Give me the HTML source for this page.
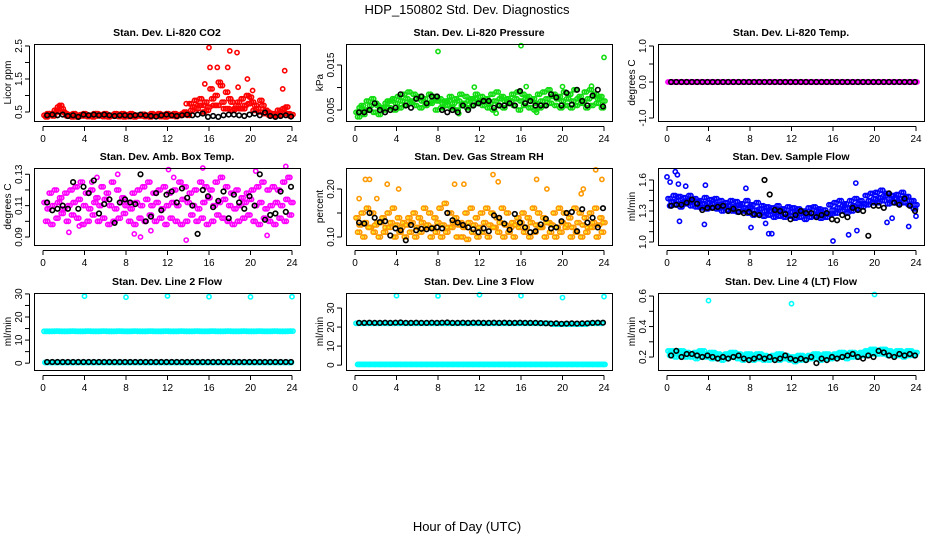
<!DOCTYPE html>
<html><head><meta charset="utf-8">
<style>
body{margin:0;background:#fff;}
svg{display:block;font-family:"Liberation Sans",Arial,sans-serif;}
</style></head>
<body>
<svg id="chart" width="936" height="540" viewBox="0 0 936 540" xmlns="http://www.w3.org/2000/svg">
<text x="467" y="14" font-size="13" text-anchor="middle">HDP_150802  Std. Dev. Diagnostics</text>
<text x="467" y="531" font-size="13" text-anchor="middle">Hour of Day (UTC)</text>
</svg>
<script>
const xTicks=[0,4,8,12,16,20,24];

const co2A=[0.4,0.45,0.55,0.7,0.45,0.4,0.4,0.42,0.42,0.4,0.45,0.4,0.42,0.4,0.43,0.45,0.4,0.42,0.4,0.43,0.4,0.42,0.45,0.4,0.42,0.45,0.4,0.5,0.75,0.85,0.9,0.8,1.2,1.0,1.3,1.1,0.8,0.7,0.9,1.0,0.8,0.6,0.7,0.5,0.45,0.55,0.6,0.45];
const co2B=[0.35,0.4,0.5,0.6,0.38,0.35,0.35,0.38,0.36,0.35,0.38,0.36,0.35,0.38,0.36,0.35,0.36,0.35,0.38,0.36,0.35,0.38,0.36,0.35,0.38,0.36,0.4,0.42,0.55,0.6,0.7,0.55,0.9,0.7,0.8,0.6,0.55,0.8,0.6,0.75,0.55,0.5,0.45,0.4,0.38,0.4,0.45,0.38];
const co2C=[0.45,0.38,0.65,0.5,0.42,0.45,0.38,0.45,0.4,0.45,0.42,0.45,0.4,0.45,0.4,0.42,0.45,0.4,0.42,0.4,0.45,0.4,0.42,0.45,0.4,0.42,0.45,0.4,0.65,0.7,0.5,0.65,0.7,1.4,0.6,0.9,0.6,0.6,0.7,0.95,0.7,0.85,0.55,0.45,0.4,0.5,0.65,0.42];
const co2OutT=[16,16.1,16.8,17.8,18,18.7,19.7,23.3,23.1,15.6,20.2,13.8,18.8];
const co2OutV=[2.45,1.85,1.85,1.85,2.35,2.3,1.5,1.75,1.2,1.35,1.15,0.75,1.25];
const co2K=[0.4,0.42,0.4,0.42,0.38,0.4,0.35,0.42,0.4,0.42,0.4,0.42,0.4,0.38,0.4,0.4,0.38,0.4,0.42,0.4,0.38,0.36,0.4,0.42,0.4,0.38,0.4,0.42,0.4,0.42,0.45,0.35,0.38,0.35,0.4,0.42,0.42,0.4,0.38,0.42,0.45,0.4,0.48,0.38,0.35,0.38,0.4,0.36];

const prA=[0.0045,0.006,0.007,0.0075,0.006,0.0055,0.007,0.0075,0.008,0.0085,0.009,0.0085,0.008,0.0075,0.0085,0.008,0.0075,0.007,0.008,0.0075,0.0085,0.008,0.0075,0.0085,0.008,0.0075,0.0085,0.009,0.008,0.0075,0.0085,0.009,0.0085,0.008,0.0075,0.0085,0.009,0.0095,0.0085,0.008,0.009,0.0085,0.0095,0.008,0.009,0.0095,0.0085,0.008];
const prB=[0.0035,0.004,0.005,0.0045,0.004,0.005,0.0055,0.005,0.0055,0.006,0.0065,0.006,0.0055,0.006,0.0065,0.005,0.0055,0.006,0.0055,0.005,0.006,0.0055,0.006,0.0065,0.006,0.0055,0.005,0.006,0.0055,0.0065,0.006,0.005,0.006,0.0055,0.005,0.0055,0.006,0.0065,0.006,0.0055,0.006,0.0055,0.006,0.0065,0.0055,0.006,0.0065,0.0055];
const prC=[0.0055,0.005,0.006,0.0065,0.0055,0.0065,0.007,0.0065,0.007,0.0075,0.007,0.0075,0.007,0.0065,0.007,0.007,0.0065,0.007,0.0065,0.007,0.0065,0.007,0.0075,0.007,0.007,0.0065,0.007,0.0075,0.007,0.007,0.0075,0.007,0.0075,0.007,0.0065,0.007,0.0075,0.008,0.0075,0.007,0.0075,0.007,0.0075,0.007,0.0075,0.008,0.0075,0.007];
const prOutT=[8,16,24,11.5,16.5,20,22.8,10,13.6,17.5];
const prOutV=[0.018,0.0193,0.0167,0.0101,0.0102,0.0102,0.0103,0.0042,0.0043,0.0045];
const prK=[0.0045,0.0045,0.005,0.0065,0.005,0.0045,0.005,0.0055,0.0085,0.006,0.0055,0.0075,0.008,0.0065,0.008,0.008,0.005,0.0045,0.005,0.0045,0.006,0.005,0.006,0.0065,0.007,0.007,0.0055,0.006,0.006,0.0065,0.006,0.0092,0.0065,0.007,0.006,0.006,0.006,0.0085,0.0078,0.006,0.0088,0.0062,0.0095,0.007,0.006,0.0082,0.0095,0.0058];

const tmA=[0,0,0,0,0,0,0,0,0,0,0,0,0,0,0,0,0,0,0,0,0,0,0,0,0,0,0,0,0,0,0,0,0,0,0,0,0,0,0,0,0,0,0,0,0,0,0,0];
const tmK=[0,0,0,0,0,0,0,0,0,0,0,0,0,0,0,0,0,0,0,0,0,0,0,0,0,0,0,0,0,0,0,0,0,0,0,0,0,0,0,0,0,0,0,0,0,0,0,0];

const amA=[0.112,0.118,0.12,0.115,0.118,0.12,0.122,0.125,0.118,0.12,0.115,0.122,0.118,0.125,0.12,0.115,0.112,0.118,0.12,0.122,0.125,0.118,0.12,0.122,0.118,0.12,0.125,0.122,0.118,0.12,0.125,0.122,0.12,0.125,0.128,0.122,0.118,0.12,0.115,0.118,0.12,0.122,0.125,0.12,0.122,0.12,0.125,0.128];
const amB=[0.1,0.098,0.102,0.105,0.1,0.104,0.102,0.098,0.1,0.104,0.1,0.102,0.098,0.1,0.102,0.105,0.1,0.098,0.102,0.1,0.104,0.1,0.102,0.098,0.102,0.1,0.098,0.1,0.104,0.1,0.102,0.098,0.1,0.104,0.102,0.1,0.098,0.1,0.102,0.104,0.1,0.098,0.102,0.1,0.098,0.102,0.1,0.104];
const amC=[0.108,0.11,0.112,0.108,0.11,0.112,0.114,0.11,0.108,0.112,0.11,0.114,0.11,0.108,0.112,0.11,0.108,0.112,0.11,0.114,0.11,0.112,0.108,0.11,0.112,0.11,0.114,0.112,0.11,0.108,0.112,0.115,0.11,0.112,0.114,0.11,0.108,0.11,0.112,0.114,0.11,0.112,0.108,0.11,0.112,0.11,0.114,0.112];
const amOutT=[2.5,3.5,5.2,7.2,8.8,9.4,10.4,12.1,13.8,15.4,20.5,21.6,23.4,12.6,4.7];
const amOutV=[0.093,0.097,0.128,0.13,0.092,0.09,0.094,0.133,0.088,0.134,0.132,0.091,0.135,0.128,0.125];
const amK=[0.112,0.107,0.108,0.11,0.108,0.125,0.108,0.122,0.118,0.126,0.105,0.111,0.114,0.099,0.112,0.114,0.112,0.111,0.13,0.1,0.103,0.118,0.107,0.117,0.119,0.112,0.121,0.115,0.11,0.092,0.12,0.116,0.109,0.113,0.119,0.102,0.117,0.112,0.108,0.116,0.11,0.13,0.101,0.104,0.105,0.119,0.106,0.122];

const rhA=[0.14,0.15,0.16,0.15,0.13,0.14,0.15,0.16,0.14,0.13,0.14,0.15,0.14,0.16,0.15,0.14,0.16,0.17,0.15,0.14,0.13,0.15,0.16,0.14,0.15,0.16,0.15,0.14,0.16,0.15,0.13,0.14,0.15,0.14,0.16,0.15,0.14,0.13,0.15,0.16,0.15,0.14,0.16,0.15,0.14,0.15,0.16,0.14];
const rhB=[0.11,0.1,0.12,0.11,0.1,0.11,0.12,0.1,0.11,0.1,0.11,0.1,0.11,0.12,0.1,0.11,0.1,0.11,0.12,0.1,0.1,0.095,0.11,0.1,0.11,0.1,0.12,0.11,0.1,0.11,0.1,0.12,0.11,0.1,0.11,0.12,0.1,0.11,0.1,0.11,0.12,0.1,0.11,0.1,0.11,0.12,0.1,0.11];
const rhC=[0.125,0.13,0.12,0.125,0.13,0.12,0.13,0.125,0.12,0.125,0.13,0.12,0.13,0.125,0.12,0.13,0.125,0.12,0.13,0.125,0.12,0.13,0.125,0.12,0.13,0.125,0.12,0.13,0.125,0.12,0.125,0.13,0.12,0.13,0.125,0.12,0.13,0.125,0.12,0.13,0.125,0.12,0.13,0.125,0.12,0.13,0.125,0.13];
const rhOutT=[0.4,1,1.4,2.1,3.1,4.2,9.6,10.5,13.3,13.8,17.5,22,23.2,23.8,21.8,18.5];
const rhOutV=[0.18,0.22,0.22,0.18,0.21,0.2,0.21,0.21,0.23,0.215,0.22,0.2,0.24,0.22,0.19,0.2];
const rhK=[0.13,0.128,0.15,0.14,0.131,0.133,0.103,0.118,0.114,0.093,0.125,0.114,0.117,0.116,0.118,0.12,0.118,0.15,0.135,0.13,0.125,0.12,0.116,0.11,0.118,0.112,0.145,0.14,0.128,0.115,0.148,0.13,0.12,0.11,0.112,0.126,0.138,0.118,0.12,0.133,0.15,0.152,0.112,0.158,0.13,0.14,0.12,0.16];

const sfA=[1.42,1.45,1.44,1.43,1.45,1.42,1.4,1.43,1.41,1.42,1.4,1.38,1.4,1.39,1.37,1.4,1.36,1.38,1.35,1.34,1.33,1.35,1.32,1.34,1.33,1.32,1.3,1.33,1.34,1.32,1.31,1.36,1.38,1.4,1.37,1.4,1.42,1.4,1.45,1.47,1.48,1.5,1.47,1.45,1.46,1.48,1.44,1.4];
const sfB=[1.35,1.36,1.34,1.37,1.35,1.34,1.33,1.32,1.33,1.32,1.3,1.31,1.3,1.29,1.3,1.28,1.26,1.27,1.25,1.26,1.24,1.25,1.24,1.25,1.23,1.24,1.22,1.24,1.25,1.23,1.24,1.27,1.28,1.3,1.28,1.3,1.32,1.34,1.36,1.38,1.38,1.4,1.37,1.38,1.37,1.38,1.36,1.32];
const sfC=[1.39,1.4,1.38,1.4,1.4,1.38,1.37,1.38,1.37,1.36,1.35,1.35,1.34,1.35,1.33,1.34,1.31,1.32,1.3,1.3,1.29,1.3,1.28,1.29,1.28,1.28,1.27,1.28,1.3,1.28,1.27,1.31,1.33,1.35,1.33,1.35,1.37,1.37,1.4,1.42,1.43,1.45,1.42,1.42,1.42,1.43,1.4,1.36];
const sfOutT=[0,0.3,0.8,1,1.1,1.2,3.6,1.8,3.7,7.6,8.1,9.5,9.8,10.1,16,17.5,18.3,18.2,21.2,23.3,21.7,24];
const sfOutV=[1.63,1.58,1.68,1.65,1.56,1.2,1.17,1.54,1.55,1.52,1.14,1.18,1.08,1.08,1.01,1.07,1.11,1.57,1.19,1.15,1.23,1.25];
const sfK=[1.35,1.36,1.36,1.38,1.41,1.37,1.31,1.33,1.33,1.34,1.35,1.3,1.32,1.29,1.28,1.29,1.27,1.26,1.6,1.46,1.31,1.3,1.27,1.22,1.26,1.3,1.28,1.28,1.24,1.26,1.28,1.22,1.21,1.26,1.24,1.33,1.31,1.3,1.06,1.35,1.35,1.33,1.47,1.38,1.36,1.42,1.35,1.3];

const l2A=[13.8,13.8,13.9,13.8,13.8,13.9,13.8,13.8,13.9,13.8,13.8,13.9,13.8,13.8,13.9,13.8,13.8,13.9,13.8,13.8,13.9,13.8,13.8,13.9,13.8,13.8,13.9,13.8,13.8,13.9,13.8,13.8,13.9,13.8,13.8,13.9,13.8,13.8,13.9,13.8,13.8,13.9,13.8,13.8,13.9,13.8,13.8,13.9];
const l2B=[0.3,0.3,0.3,0.3,0.3,0.3,0.3,0.3,0.3,0.3,0.3,0.3,0.3,0.3,0.3,0.3,0.3,0.3,0.3,0.3,0.3,0.3,0.3,0.3,0.3,0.3,0.3,0.3,0.3,0.3,0.3,0.3,0.3,0.3,0.3,0.3,0.3,0.3,0.3,0.3,0.3,0.3,0.3,0.3,0.3,0.3,0.3,0.3];
const l2OutT=[4,8,12,16,20,24];
const l2OutV=[29,28.6,29.1,28.8,28.7,28.8];
const l2K=[0.5,0.5,0.5,0.5,0.5,0.5,0.5,0.5,0.5,0.5,0.5,0.5,0.5,0.5,0.5,0.5,0.5,0.5,0.5,0.5,0.5,0.5,0.5,0.5,0.5,0.5,0.5,0.5,0.5,0.5,0.5,0.5,0.5,0.5,0.5,0.5,0.5,0.5,0.5,0.5,0.5,0.5,0.5,0.5,0.5,0.5,0.5,0.5];

const l3A=[22,22,22,22,22,22,22,22,22,22,22,22,22,22,22,22,22,22,22,22,22,22,22,22,22,22,22,22,22,22,22,22,22,22,22,22,22,22,21.5,21.5,21.5,21.5,21.5,21.5,21.5,22,22,22];
const l3B=[0.4,0.4,0.4,0.4,0.4,0.4,0.4,0.4,0.4,0.4,0.4,0.4,0.4,0.4,0.4,0.4,0.4,0.4,0.4,0.4,0.4,0.4,0.4,0.4,0.4,0.4,0.4,0.4,0.4,0.4,0.4,0.4,0.4,0.4,0.4,0.4,0.4,0.4,0.4,0.4,0.4,0.4,0.4,0.4,0.4,0.4,0.4,0.4];
const l3OutT=[4,8,12,16,20,24];
const l3OutV=[36.5,36.4,37,36.5,35.5,36];
const l3K=[22.2,22.2,22.3,22.2,22.2,22.3,22.2,22.3,22.4,22.2,22.2,22.3,22.2,22.2,22.3,22.2,22.3,22.4,22.2,22.2,22.3,22.2,22.3,22.3,22.2,22.2,22.3,22.2,22.3,22.2,22.2,22.3,22.2,22.2,22.2,22.1,22.0,21.8,21.9,21.7,21.8,21.9,21.8,21.9,22.0,22.2,22.3,22.3];

const l4A=[0.24,0.23,0.24,0.23,0.22,0.23,0.24,0.22,0.23,0.22,0.21,0.22,0.23,0.22,0.21,0.22,0.21,0.22,0.21,0.2,0.21,0.22,0.21,0.2,0.2,0.21,0.2,0.21,0.22,0.21,0.22,0.21,0.22,0.23,0.22,0.23,0.22,0.23,0.24,0.25,0.24,0.25,0.24,0.23,0.24,0.23,0.24,0.23];
const l4B=[0.21,0.2,0.21,0.2,0.2,0.19,0.2,0.2,0.19,0.19,0.18,0.19,0.2,0.19,0.18,0.19,0.18,0.19,0.18,0.18,0.19,0.18,0.19,0.18,0.17,0.18,0.18,0.19,0.19,0.18,0.19,0.19,0.2,0.2,0.19,0.2,0.2,0.21,0.21,0.22,0.22,0.22,0.21,0.21,0.21,0.2,0.21,0.21];
const l4OutT=[4,12,20];
const l4OutV=[0.57,0.55,0.61];
const l4K=[0.21,0.24,0.2,0.22,0.22,0.21,0.2,0.21,0.2,0.19,0.2,0.19,0.2,0.21,0.19,0.18,0.19,0.2,0.19,0.2,0.18,0.19,0.21,0.19,0.18,0.19,0.18,0.2,0.16,0.19,0.18,0.2,0.19,0.2,0.21,0.22,0.2,0.19,0.21,0.2,0.24,0.23,0.21,0.2,0.22,0.21,0.22,0.21];

const NS="http://www.w3.org/2000/svg";
const svg=document.getElementById('chart');
function mk(tag,attrs,parent){const e=document.createElementNS(NS,tag);for(const k in attrs)e.setAttribute(k,attrs[k]);(parent||svg).appendChild(e);return e;}

const panels=[
 {name:'co2',title:'Stan. Dev. Li-820 CO2',ylab:'Licor ppm',col:0,row:0,ymin:0.227,ymax:2.56,ticks:[0.5,1,1.5,2,2.5],labs:['0.5','','1.5','','2.5'],color:'#ff0000',series:[co2A,co2B,co2C],outT:co2OutT,outV:co2OutV,black:co2K},
 {name:'pressure',title:'Stan. Dev. Li-820 Pressure',ylab:'kPa',col:1,row:0,ymin:0.00256,ymax:0.01967,ticks:[0.005,0.010,0.015],labs:['0.005','','0.015'],color:'#11dd11',series:[prA,prB,prC],outT:prOutT,outV:prOutV,black:prK},
 {name:'temp',title:'Stan. Dev. Li-820 Temp.',ylab:'degrees C',col:2,row:0,ymin:-1.083,ymax:1.056,ticks:[-1,-0.5,0,0.5,1],labs:['-1.0','','0.0','','1.0'],color:'#ff00ff',series:[tmA,tmA,tmA],outT:[],outV:[],black:tmK},
 {name:'amb-box-temp',title:'Stan. Dev. Amb. Box Temp.',ylab:'degrees C',col:0,row:1,ymin:0.0849,ymax:0.134,ticks:[0.09,0.10,0.11,0.12,0.13],labs:['0.09','','0.11','','0.13'],color:'#ff00ff',series:[amA,amB,amC],outT:amOutT,outV:amOutV,black:amK},
 {name:'gas-rh',title:'Stan. Dev. Gas Stream RH',ylab:'percent',col:1,row:1,ymin:0.0833,ymax:0.2438,ticks:[0.10,0.15,0.20],labs:['0.10','','0.20'],color:'#ff9900',inner:'#ffee00',series:[rhA,rhB,rhC],outT:rhOutT,outV:rhOutV,black:rhK},
 {name:'sample-flow',title:'Stan. Dev. Sample Flow',ylab:'ml/min',col:2,row:1,ymin:0.971,ymax:1.716,ticks:[1.0,1.1,1.2,1.3,1.4,1.5,1.6],labs:['1.0','','','1.3','','','1.6'],color:'#0000ff',series:[sfA,sfB,sfC],outT:sfOutT,outV:sfOutV,black:sfK},
 {name:'line2-flow',title:'Stan. Dev. Line 2 Flow',ylab:'ml/min',col:0,row:2,ymin:-2.96,ymax:30.4,ticks:[0,5,10,15,20,25,30],labs:['0','','10','','20','','30'],color:'#00ffff',series:[l2A,l2B,l2A,l2B],outT:l2OutT,outV:l2OutV,black:l2K},
 {name:'line3-flow',title:'Stan. Dev. Line 3 Flow',ylab:'ml/min',col:1,row:2,ymin:-2.56,ymax:37.9,ticks:[0,10,20,30],labs:['0','10','20','30'],color:'#00ffff',series:[l3A,l3B,l3B],outT:l3OutT,outV:l3OutV,black:l3K},
 {name:'line4-flow',title:'Stan. Dev. Line 4 (LT) Flow',ylab:'ml/min',col:2,row:2,ymin:0.115,ymax:0.62,ticks:[0.2,0.3,0.4,0.5,0.6],labs:['0.2','','0.4','','0.6'],color:'#00ffff',series:[l4A,l4B,l4A],outT:l4OutT,outV:l4OutV,black:l4K}
];
const colL=[34,346,658], rowT=[44,168,293], W=266, H=77;

panels.forEach(p=>{
  const L=colL[p.col], T=rowT[p.row], B=T+H, R=L+W;
  const xs=h=>L+9+h*(249/24);
  const ys=v=>B-(v-p.ymin)/(p.ymax-p.ymin)*H;
  const g=mk('g',{});
  
  
  const t=mk('text',{x:L+W/2,y:T-8,'font-size':10.5,'font-weight':'bold','text-anchor':'middle'},g);
  
  
  t.textContent=p.title;
  const yl=mk('text',{x:0,y:0,'font-size':10,'text-anchor':'middle',transform:`translate(${L-23},${T+H/2}) rotate(-90)`},g);
  
  
  yl.textContent=p.ylab;
  const pts=mk('g',{fill:'none','stroke-width':1.6},g);
  
  
  const offs=[0.1,0.25,0.4,0.18];
  function dot(h,v,col,r){
    const c=mk('circle',{cx:xs(h).toFixed(1),cy:ys(v).toFixed(1),r:r||2.1,stroke:col},pts);
    
    
  }
  p.series.forEach((arr,si)=>{arr.forEach((v,i)=>{dot(i*0.5+offs[si%4],v,p.color);dot(i*0.5+offs[si%4]+0.2,v,p.color);});});
  p.outT.forEach((h,i)=>dot(h,p.outV[i],p.color));
  if(p.inner){p.series.forEach((arr,si)=>arr.forEach((v,i)=>{const c=mk('circle',{cx:xs(i*0.5+offs[si%4]).toFixed(1),cy:ys(v).toFixed(1),r:1,fill:p.inner,stroke:'none'},pts);}));}
  p.black.forEach((v,i)=>dot(i*0.5+0.4,v,'#000',2.3));
  const bx=mk('rect',{x:L+0.5,y:T+0.5,width:W,height:H,fill:'none',stroke:'#000','stroke-width':1},g);
  
  
  const xa=mk('g',{stroke:'#000','stroke-width':1},g);
  
  
  mk('line',{x1:xs(0),x2:xs(24),y1:B+5.5,y2:B+5.5},xa);
  xTicks.forEach(h=>{
    mk('line',{x1:xs(h),x2:xs(h),y1:B+5.5,y2:B+10},xa);
    const tl=mk('text',{x:xs(h),y:B+21,'font-size':10,'text-anchor':'middle',stroke:'none',fill:'#000'},g);
    
    
    tl.textContent=h;
  });
  const ya=mk('g',{stroke:'#000','stroke-width':1},g);
  
  
  const t0=p.ticks[0], t1=p.ticks[p.ticks.length-1];
  mk('line',{x1:L-4.5,x2:L-4.5,y1:ys(t0),y2:ys(t1)},ya);
  p.ticks.forEach((v,i)=>{
    mk('line',{x1:L-4.5,x2:L-9,y1:ys(v),y2:ys(v)},ya);
    if(p.labs[i]){
      const tl=mk('text',{x:0,y:0,'font-size':10,'text-anchor':'middle',transform:`translate(${L-12},${ys(v)}) rotate(-90)`},g);
      
      
      tl.textContent=p.labs[i];
    }
  });
});
</script>
</body></html>
